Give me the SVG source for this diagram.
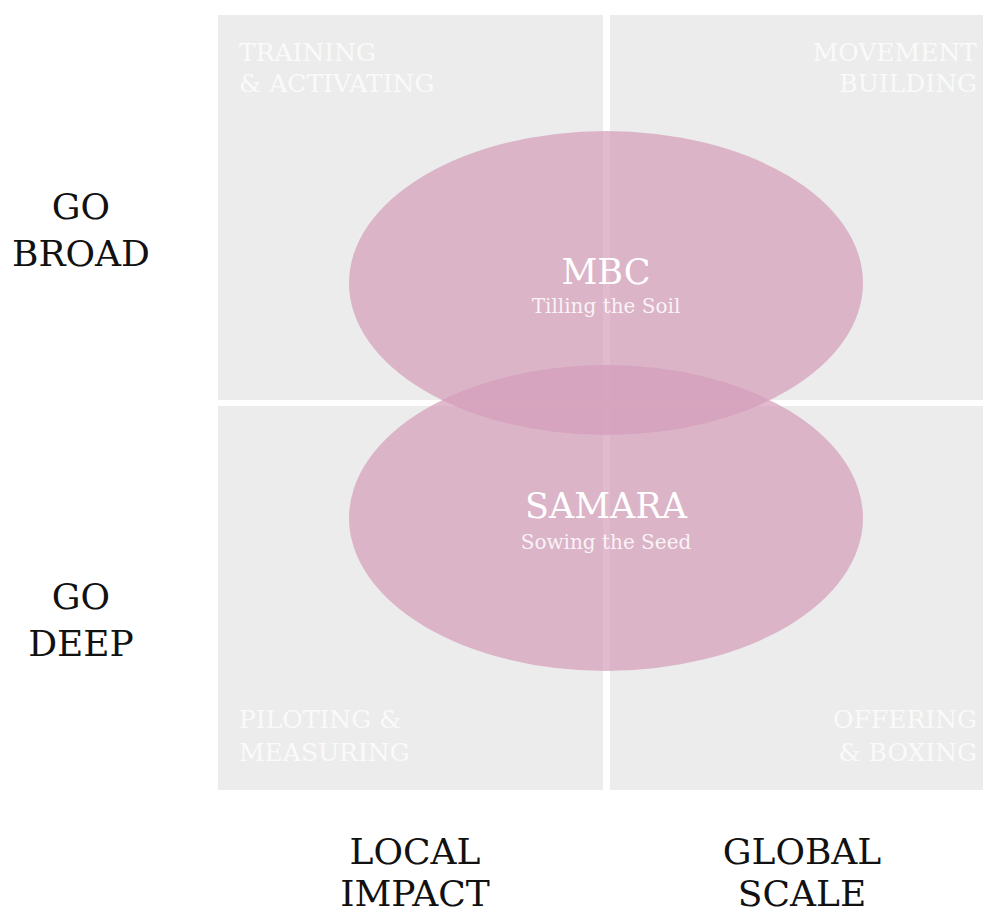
<svg xmlns="http://www.w3.org/2000/svg" width="983" height="913" viewBox="0 0 983 913">
<style>
.q{fill:#ececec}
.ql{font-family:"DejaVu Serif",serif;font-size:25px;fill:#fafafa}
.ax{font-family:"DejaVu Serif",serif;font-size:36px;fill:#111;text-anchor:middle}
.el{fill:#d49db9;fill-opacity:0.7}
.t1{font-family:"DejaVu Serif",serif;font-size:35px;fill:#fff;text-anchor:middle}
.t2{font-family:"DejaVu Serif",serif;font-size:20px;fill:#fff;fill-opacity:0.85;text-anchor:middle}
</style>
<rect width="983" height="913" fill="#fff"/>
<g id="quadrants">
<g id="q-training"><rect class="q" x="218" y="15" width="385" height="385"/>
<text class="ql"><tspan x="239" y="61">TRAINING</tspan><tspan x="239" y="92">&amp; ACTIVATING</tspan></text></g>
<g id="q-movement"><rect class="q" x="610" y="15" width="373" height="385"/>
<text class="ql" text-anchor="end"><tspan x="977" y="61">MOVEMENT</tspan><tspan x="977" y="92">BUILDING</tspan></text></g>
<g id="q-piloting"><rect class="q" x="218" y="406" width="385" height="384"/>
<text class="ql"><tspan x="239" y="728">PILOTING &amp;</tspan><tspan x="239" y="761">MEASURING</tspan></text></g>
<g id="q-offering"><rect class="q" x="610" y="406" width="373" height="384"/>
<text class="ql" text-anchor="end"><tspan x="977" y="728">OFFERING</tspan><tspan x="977" y="761">&amp; BOXING</tspan></text></g>
</g>
<g id="connectors"></g>
<g id="mbc"><ellipse class="el" cx="606" cy="283" rx="257" ry="152"/>
<text class="t1" x="606" y="284">MBC</text>
<text class="t2" x="606" y="313">Tilling the Soil</text></g>
<g id="samara"><ellipse class="el" cx="606" cy="518" rx="257" ry="153"/>
<text class="t1" x="606" y="518">SAMARA</text>
<text class="t2" x="606" y="549">Sowing the Seed</text></g>
<g id="axis-labels">
<text class="ax"><tspan x="81" y="219">GO</tspan><tspan x="81" y="266">BROAD</tspan></text>
<text class="ax"><tspan x="81" y="609">GO</tspan><tspan x="81" y="656">DEEP</tspan></text>
<text class="ax"><tspan x="415" y="864">LOCAL</tspan><tspan x="415" y="906">IMPACT</tspan></text>
<text class="ax"><tspan x="802" y="864">GLOBAL</tspan><tspan x="802" y="906">SCALE</tspan></text>
</g>
</svg>
